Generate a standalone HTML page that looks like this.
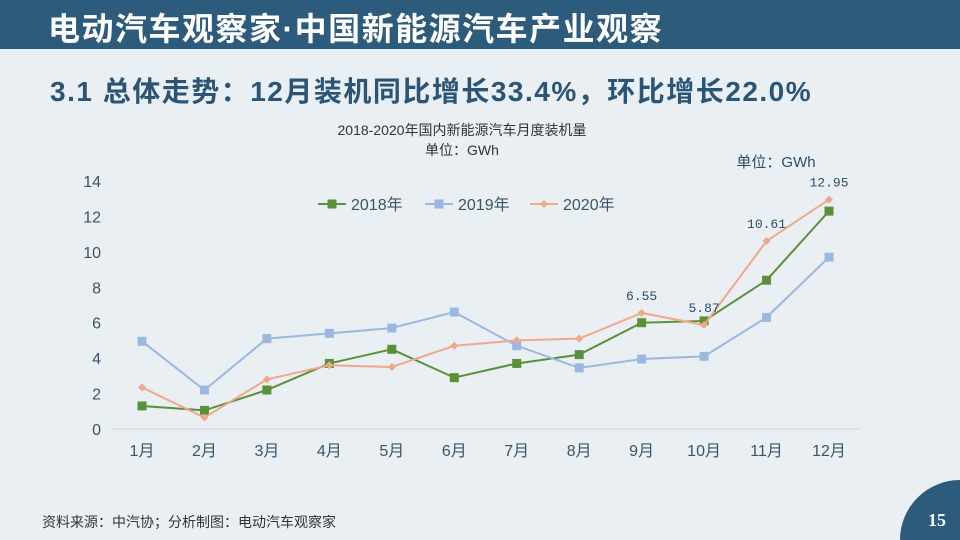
<!DOCTYPE html>
<html style="overflow:hidden;width:960px;height:540px"><head><meta charset="utf-8"><style>
html,body{margin:0;padding:0}
body{width:960px;height:540px;overflow:hidden;background:#e9eff2;font-family:"Liberation Sans","Noto Sans CJK SC",sans-serif}
#wrap{position:relative;width:960px;height:540px;overflow:hidden;background:#e9eff2}
.hdr{position:absolute;left:0;top:0;width:960px;height:49px;background:#2d5b7b}
.hdr span{position:absolute;left:48px;top:4px;color:#fff;font-size:32px;font-weight:bold;letter-spacing:1.5px;white-space:nowrap}
.ttl{position:absolute;left:50px;top:70px;color:#2a5576;font-size:28px;font-weight:bold;letter-spacing:1.5px;white-space:nowrap}
.src{position:absolute;left:42px;top:512px;font-size:14px;color:#333}
.circ{position:absolute;left:900px;top:480px;width:60px;height:60px;border-top-left-radius:62px 62px;background:#2d5b7b}
.pg{position:absolute;left:928px;top:510px;color:#fff;font-size:18px;font-weight:bold;font-family:"Liberation Serif",serif}
</style></head><body><div id="wrap">
<div class="hdr"><span>电动汽车观察家·中国新能源汽车产业观察</span></div>
<div class="ttl">3.1 总体走势：12月装机同比增长33.4%，环比增长22.0%</div>
<svg id="chart" width="960" height="540" style="position:absolute;left:0;top:0"></svg>
<div class="src">资料来源：中汽协；分析制图：电动汽车观察家</div>
<div class="circ"></div>
<div class="pg">15</div>
</div>
<script>
const categories=["1月","2月","3月","4月","5月","6月","7月","8月","9月","10月","11月","12月"];
const s2018=[1.3,1.05,2.2,3.7,4.5,2.9,3.7,4.2,6.0,6.1,8.4,12.3];
const s2019=[4.95,2.2,5.1,5.4,5.7,6.6,4.7,3.45,3.95,4.1,6.3,9.7];
const s2020=[2.35,0.65,2.8,3.6,3.5,4.7,5.0,5.1,6.55,5.87,10.61,12.95];
const yTicks=[0,2,4,6,8,10,12,14];
const labels2020=[null,null,null,null,null,null,null,null,"6.55","5.87","10.61","12.95"];
const NS="http://www.w3.org/2000/svg",svg=document.getElementById('chart');
const x=i=>142+i*(829-142)/11, y=v=>429-v*(429-181)/14;
function mk(t,a,txt){const e=document.createElementNS(NS,t);for(const k in a)e.setAttribute(k,a[k]);if(txt!=null)e.textContent=txt;svg.appendChild(e);return e;}
let e;
e=mk('text',{x:462,y:135,'text-anchor':'middle','font-size':14,fill:'#333'},'2018-2020年国内新能源汽车月度装机量');


e=mk('text',{x:462,y:155,'text-anchor':'middle','font-size':14,fill:'#333'},'单位：GWh');


e=mk('text',{x:776,y:167,'text-anchor':'middle','font-size':15,fill:'#2a4d68'},'单位：GWh');


e=mk('line',{x1:112,x2:860,y1:429,y2:429,stroke:'#d0d6da','stroke-width':1});


yTicks.forEach(v=>{e=mk('text',{x:101,y:y(v)+6,'text-anchor':'end','font-size':16,fill:'#3b5568'},String(v));

});
categories.forEach((c,i)=>{e=mk('text',{x:x(i),y:456,'text-anchor':'middle','font-size':16,fill:'#3b5568'},c);

});
const series=[{d:s2018,c:'#5a9138',m:'sq',n:'2018'},{d:s2019,c:'#9bb9e0',m:'sq',n:'2019'},{d:s2020,c:'#f0a88a',m:'di',n:'2020'}];
function marker(cx,cy,s,name){let el;if(s.m==='sq')el=mk('rect',{x:cx-4.5,y:cy-4.5,width:9,height:9,fill:s.c});else el=mk('polygon',{points:`${cx},${cy-4} ${cx+4},${cy} ${cx},${cy+4} ${cx-4},${cy}`,fill:s.c});

}
series.forEach(s=>{e=mk('polyline',{points:s.d.map((v,i)=>x(i)+','+y(v)).join(' '),fill:'none',stroke:s.c,'stroke-width':2});


s.d.forEach((v,i)=>marker(x(i),y(v),s,'point-'+s.n));});
labels2020.forEach((l,i)=>{if(l){e=mk('text',{x:x(i),y:y(s2020[i])-13,'text-anchor':'middle','font-size':13,fill:'#2a4d68','font-family':'Liberation Mono, monospace'},l);

}});
const lx=[318,425,530];
series.forEach((s,k)=>{e=mk('line',{x1:lx[k],x2:lx[k]+28,y1:204,y2:204,stroke:s.c,'stroke-width':2});


marker(lx[k]+14,204,s,'legend-marker-'+s.n);
e=mk('text',{x:lx[k]+33,y:210,'font-size':16,fill:'#3b5568'},s.n+'年');

});
</script>
</body></html>
